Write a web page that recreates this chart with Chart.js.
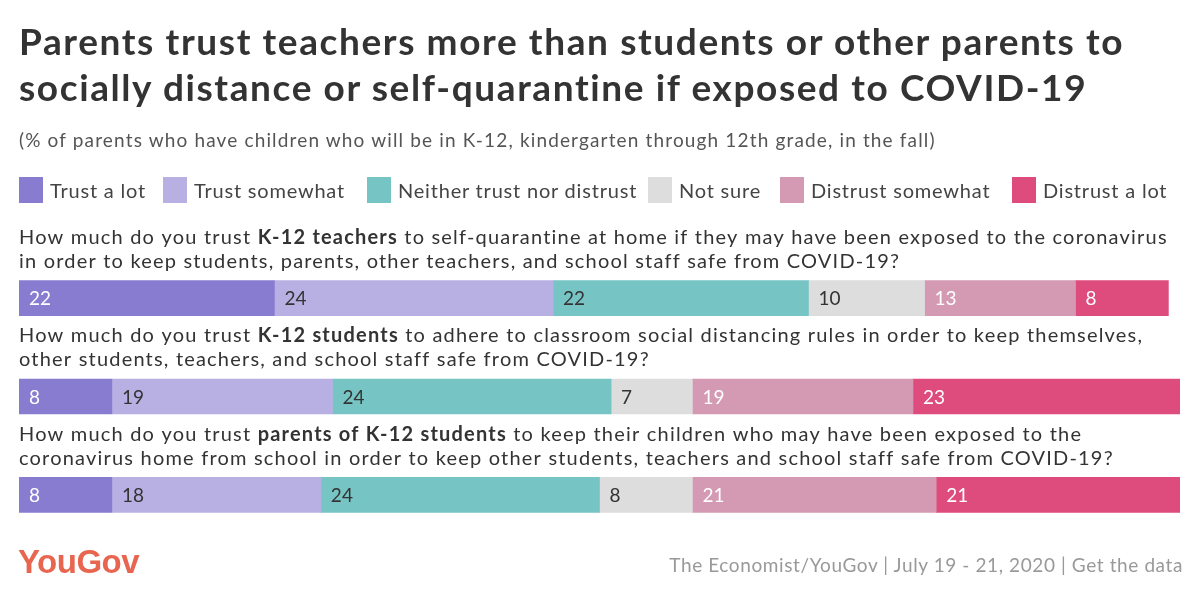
<!DOCTYPE html>
<html>
<head>
<meta charset="utf-8">
<script src="https://cdn.jsdelivr.net/npm/chart.js@4"></script>
<style>
  html, body { margin: 0; padding: 0; background: #fff; }
  body { width: 1200px; height: 597px; position: relative; overflow: hidden; font-family: Lato, "Open Sans", sans-serif; }
  #wrap { position: absolute; left: 0; top: 0; width: 1200px; height: 597px; }
  .title { position: absolute; left: 19px; top: 18px; font-size: 37px; font-weight: 700; color: #333; line-height: 46px; letter-spacing: 1.6px; white-space: nowrap; }
  .sub { position: absolute; left: 19px; top: 128px; font-size: 19px; color: #555; letter-spacing: 1.15px; white-space: nowrap; }
  .leg { position: absolute; top: 177px; height: 26px; display: flex; align-items: center; font-size: 20px; color: #444; letter-spacing: 0.8px; white-space: nowrap; }
  .leg i { display: inline-block; width: 24px; height: 26px; margin-right: 7px; }
  .logo { position: absolute; left: 18px; top: 543px; font-size: 33px; font-weight: 700; color: #E8654F; letter-spacing: -0.5px; font-family: "Liberation Sans", Arial, sans-serif; }
  .src { position: absolute; right: 17px; top: 553px; font-size: 19px; color: #999; letter-spacing: 0.6px; white-space: nowrap; }
</style>
</head>
<body>
<div id="wrap"><canvas id="chart"></canvas></div>
<div class="title">Parents trust teachers more than students or other parents to<br>socially distance or self-quarantine if exposed to COVID-19</div>
<div class="sub">(% of parents who have children who will be in K-12, kindergarten through 12th grade, in the fall)</div>
<div id="legend"></div>
<div class="logo">YouGov</div>
<div class="src">The Economist/YouGov | July 19 - 21, 2020 | Get the data</div>
<script>
// categories (questions)
const QUESTIONS = [
  [[['How much do you trust ', false], ['K-12 teachers', true], [' to self-quarantine at home if they may have been exposed to the coronavirus', false]],
   [['in order to keep students, parents, other teachers, and school staff safe from COVID-19?', false]]],
  [[['How much do you trust ', false], ['K-12 students', true], [' to adhere to classroom social distancing rules in order to keep themselves,', false]],
   [['other students, teachers, and school staff safe from COVID-19?', false]]],
  [[['How much do you trust ', false], ['parents of K-12 students', true], [' to keep their children who may have been exposed to the', false]],
   [['coronavirus home from school in order to keep other students, teachers and school staff safe from COVID-19?', false]]],
];
const SERIES = ['Trust a lot', 'Trust somewhat', 'Neither trust nor distrust', 'Not sure', 'Distrust somewhat', 'Distrust a lot'];
const COLORS_S = ['#887CD0', '#B8B0E3', '#76C5C4', '#DDDDDD', '#D59AB3', '#DE4B7D'];
const LABEL_COLOR = ['#fff', '#333', '#333', '#333', '#fff', '#fff'];

const trustALot     = [22, 8, 8];
const trustSomewhat = [24, 19, 18];
const neither       = [22, 24, 24];
const notSure       = [10, 7, 8];
const distrustSome  = [13, 19, 21];
const distrustALot  = [8, 23, 21];
const VALUES = [trustALot, trustSomewhat, neither, notSure, distrustSome, distrustALot];

const LEGEND_X = [19, 163, 367, 648, 780, 1012];

// html legend
const legendEl = document.getElementById('legend');
SERIES.forEach((s, i) => {
  const d = document.createElement('div');
  d.className = 'leg';
  d.style.left = LEGEND_X[i] + 'px';
  d.innerHTML = `<i style="background:${COLORS_S[i]}"></i>${s}`;
  legendEl.appendChild(d);
});

const FONT = 'Lato, "Open Sans", sans-serif';

const questionPlugin = {
  id: 'questions',
  afterDraw(chart) {
    const ctx = chart.ctx;
    const y = chart.scales.y;
    ctx.save();
    ctx.textBaseline = 'middle';
    ctx.fillStyle = '#333';
    ctx.letterSpacing = '1.2px';
    QUESTIONS.forEach((lines, qi) => {
      const cy = y.getPixelForValue(qi);
      lines.forEach((parts, li) => {
        let x = 19;
        const ly = cy - 60.5 + li * 24;
        parts.forEach(([txt, bold]) => {
          ctx.font = (bold ? '700 ' : '400 ') + '20px ' + FONT;
          ctx.fillText(txt, x, ly);
          x += ctx.measureText(txt).width;
        });
      });
    });
    ctx.restore();
  }
};

const valuePlugin = {
  id: 'values',
  afterDatasetsDraw(chart) {
    const ctx = chart.ctx;
    ctx.save();
    ctx.font = '400 19px ' + FONT;
    ctx.textBaseline = 'middle';
    chart.data.datasets.forEach((ds, di) => {
      chart.getDatasetMeta(di).data.forEach((bar, i) => {
        const left = Math.min(bar.x, bar.base);
        ctx.fillStyle = LABEL_COLOR[di];
        ctx.fillText(ds.data[i], left + 10, bar.y + 1);
      });
    });
    ctx.restore();
  }
};

new Chart(document.getElementById('chart'), {
  type: 'bar',
  data: {
    labels: QUESTIONS.map((q, i) => 'Q' + (i + 1)),
    datasets: SERIES.map((s, i) => ({
      label: s,
      data: VALUES[i],
      backgroundColor: COLORS_S[i],
      borderWidth: 0,
      barThickness: 35,
    })),
  },
  options: {
    indexAxis: 'y',
    responsive: true, maintainAspectRatio: false,
    animation: false,
    layout: { padding: { left: 19, right: 20, top: 249, bottom: 53 } },
    plugins: { legend: { display: false }, tooltip: { enabled: false } },
    scales: {
      x: { stacked: true, min: 0, max: 100, display: false },
      y: { stacked: true, display: false },
    },
  },
  plugins: [questionPlugin, valuePlugin],
});
</script>
</body>
</html>
